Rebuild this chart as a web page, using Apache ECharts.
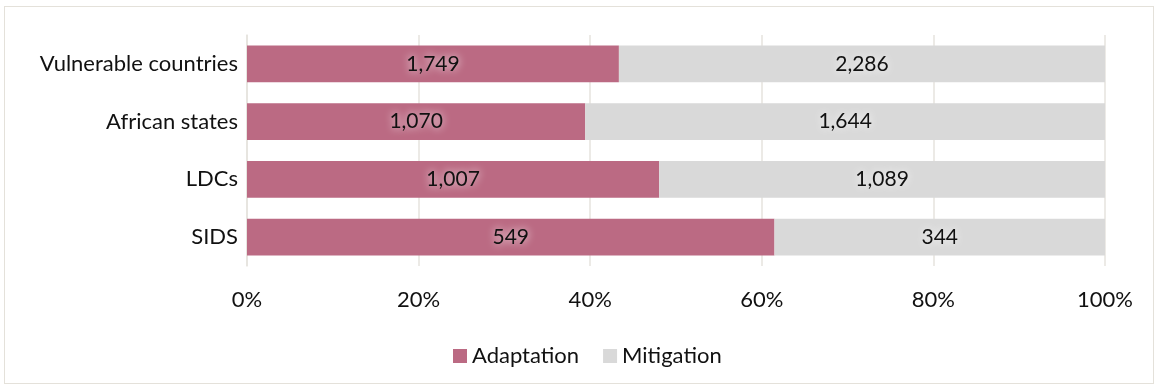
<!DOCTYPE html>
<html>
<head>
<meta charset="utf-8">
<script src="https://cdn.jsdelivr.net/npm/echarts@6/dist/echarts.min.js"></script>
<style>
  html, body { margin: 0; padding: 0; background: #ffffff; }
  #frame { position: absolute; left: 4px; top: 6px; width: 1150px; height: 378px; border: 1px solid #e4e1da; box-sizing: border-box; }
  #chart { position: absolute; left: 0; top: 0; width: 1159px; height: 388px; }
</style>
</head>
<body>
<div id="frame"></div>
<div id="chart"></div>
<script>
// Finance by recipient group (counts of projects)
const categories = ['Vulnerable countries', 'African states', 'LDCs', 'SIDS'];
const adaptation = [1749, 1070, 1007, 549];
const mitigation = [2286, 1644, 1089, 344];
const tickLabels = ['0%', '20%', '40%', '60%', '80%', '100%'];

// Bars are drawn as shares of each group's total; labels keep the counts.
const share = (arr, i) => 100 * arr[i] / (adaptation[i] + mitigation[i]);
const fmt = n => n.toLocaleString('en-US');

const FONT = 'Lato, "Open Sans", sans-serif';
const labelStyle = {
  show: true,
  position: 'inside',
  fontFamily: FONT,
  fontSize: 21,
  color: '#111111',
  textShadowColor: '#ffffff',
  textShadowBlur: 8,
  formatter: p => fmt(p.data.count)
};

const chart = echarts.init(document.getElementById('chart'), null, { renderer: 'canvas' });
chart.setOption({
  animation: false,
  textStyle: { fontFamily: FONT },
  legend: {
    left: 448,
    top: 340,
    itemWidth: 14,
    itemHeight: 14,
    itemGap: 24,
    icon: 'rect',
    textStyle: { fontFamily: FONT, fontSize: 22, color: '#111111' },
    data: ['Adaptation', 'Mitigation']
  },
  grid: { left: 247, right: 54, top: 35, height: 231, containLabel: false },
  xAxis: {
    type: 'value',
    min: 0,
    max: 100,
    interval: 20,
    axisLine: { show: false },
    axisTick: { show: false },
    splitLine: { show: true, lineStyle: { color: '#e6e3de', width: 1.5 } },
    axisLabel: {
      margin: 23,
      fontFamily: FONT,
      fontSize: 22,
      color: '#111111',
      formatter: v => tickLabels[Math.round(v / 20)]
    }
  },
  yAxis: {
    type: 'category',
    inverse: true,
    data: categories,
    axisLine: { show: true, lineStyle: { color: '#e6e3de', width: 1.5 } },
    axisTick: { show: false },
    axisLabel: { margin: 9, fontFamily: FONT, fontSize: 22, color: '#111111' }
  },
  series: [
    {
      name: 'Adaptation',
      type: 'bar',
      stack: 'total',
      barCategoryGap: '36%',
      itemStyle: { color: '#bb6a83' },
      label: labelStyle,
      data: adaptation.map((c, i) => ({ value: share(adaptation, i), count: c }))
    },
    {
      name: 'Mitigation',
      type: 'bar',
      stack: 'total',
      barCategoryGap: '36%',
      itemStyle: { color: '#d9d9d9' },
      label: labelStyle,
      data: mitigation.map((c, i) => ({ value: share(mitigation, i), count: c }))
    }
  ]
});
</script>
</body>
</html>
